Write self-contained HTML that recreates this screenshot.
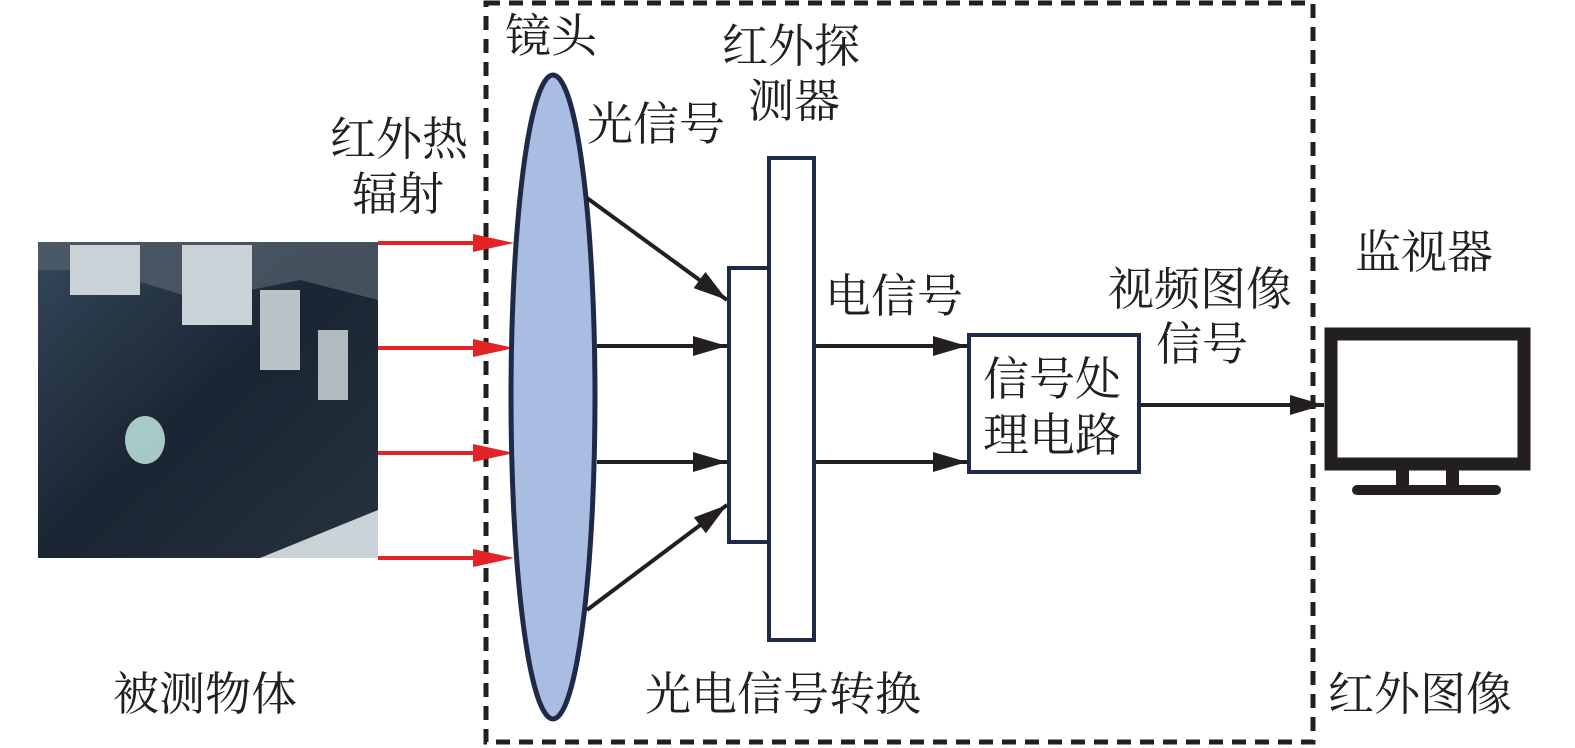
<!DOCTYPE html>
<html><head><meta charset="utf-8"><style>
html,body{margin:0;padding:0;background:#fff;}
svg{display:block}
text{font-family:"Liberation Serif","Noto Serif CJK SC",serif;font-size:46px;fill:#231f20;}
</style></head><body>
<svg width="1575" height="748" viewBox="0 0 1575 748" xmlns="http://www.w3.org/2000/svg">
<defs>
<marker id="ab" markerWidth="34" markerHeight="20" refX="34" refY="10" orient="auto" markerUnits="userSpaceOnUse" viewBox="0 0 34 20"><path d="M0,0 L34,10 L0,20 Z" fill="#231f20"/></marker>
<linearGradient id="g" x1="0" y1="0" x2="1" y2="1">
<stop offset="0" stop-color="#34475a"/><stop offset="0.5" stop-color="#1a2533"/><stop offset="1" stop-color="#27323e"/></linearGradient>
</defs>
<!-- photo -->
<rect x="38" y="242" width="340" height="316" fill="url(#g)"/>
<polygon points="38,242 378,242 378,300 300,280 200,300 100,270 38,270" fill="#56636e" opacity="0.7"/>
<rect x="70" y="245" width="70" height="50" fill="#c9d2d6"/>
<rect x="182" y="245" width="70" height="80" fill="#c9d2d6"/>
<rect x="260" y="290" width="40" height="80" fill="#b9c3c8"/>
<rect x="318" y="330" width="30" height="70" fill="#b0babf"/>
<polygon points="260,558 378,510 378,558" fill="#c9d2d6"/>
<ellipse cx="145" cy="440" rx="20" ry="24" fill="#bfe6e2" opacity="0.85"/>
<!-- dashed box -->
<rect x="486" y="3" width="827" height="739" fill="none" stroke="#231f20" stroke-width="5" stroke-dasharray="14,9"/>
<!-- red arrows -->
<g stroke="#e42327" stroke-width="4">
<line x1="378" y1="243" x2="478" y2="243"/><line x1="378" y1="348" x2="478" y2="348"/>
<line x1="378" y1="453" x2="478" y2="453"/><line x1="378" y1="558" x2="478" y2="558"/>
</g>
<g fill="#e42327">
<polygon points="473,234 514,243 473,252"/><polygon points="473,339 514,348 473,357"/>
<polygon points="473,444 514,453 473,462"/><polygon points="473,549 514,558 473,567"/>
</g>
<!-- lens -->
<ellipse cx="553" cy="397" rx="42" ry="322" fill="#a9bde3" stroke="#1e2a48" stroke-width="5"/>
<!-- black arrows -->
<g stroke="#231f20" stroke-width="4" marker-end="url(#ab)">
<line x1="587" y1="198" x2="727" y2="300"/>
<line x1="597" y1="346" x2="727" y2="346"/>
<line x1="597" y1="462" x2="727" y2="462"/>
<line x1="587" y1="610" x2="727" y2="505"/>
<line x1="815" y1="346" x2="967" y2="346"/>
<line x1="815" y1="462" x2="967" y2="462"/>
<line x1="1140" y1="405" x2="1324" y2="405"/>
</g>
<!-- detector -->
<rect x="729" y="268" width="40" height="274" fill="#fff" stroke="#1e2a48" stroke-width="4"/>
<rect x="769" y="158" width="45" height="482" fill="#fff" stroke="#1e2a48" stroke-width="4"/>
<!-- signal box -->
<rect x="969" y="335" width="170" height="137" fill="#fff" stroke="#1e2a48" stroke-width="4"/>
<!-- monitor -->
<rect x="1331" y="334" width="193" height="130" fill="#fff" stroke="#231f20" stroke-width="13"/>
<rect x="1396" y="470" width="13" height="17" fill="#231f20"/>
<rect x="1446" y="470" width="13" height="17" fill="#231f20"/>
<rect x="1352" y="485" width="149" height="10" rx="5" fill="#231f20"/>
<!-- texts -->
<text x="505" y="52">镜头</text>
<text x="722" y="62">红外探</text>
<text x="748" y="117">测器</text>
<text x="587" y="140">光信号</text>
<text x="330" y="155">红外热</text>
<text x="352" y="210">辐射</text>
<text x="825" y="312">电信号</text>
<text x="1108" y="305">视频图像</text>
<text x="1156" y="360">信号</text>
<text x="1355" y="268">监视器</text>
<text x="983" y="395">信号处</text>
<text x="983" y="451">理电路</text>
<text x="113" y="710">被测物体</text>
<text x="645" y="710">光电信号转换</text>
<text x="1328" y="710">红外图像</text>
</svg>
</body></html>
